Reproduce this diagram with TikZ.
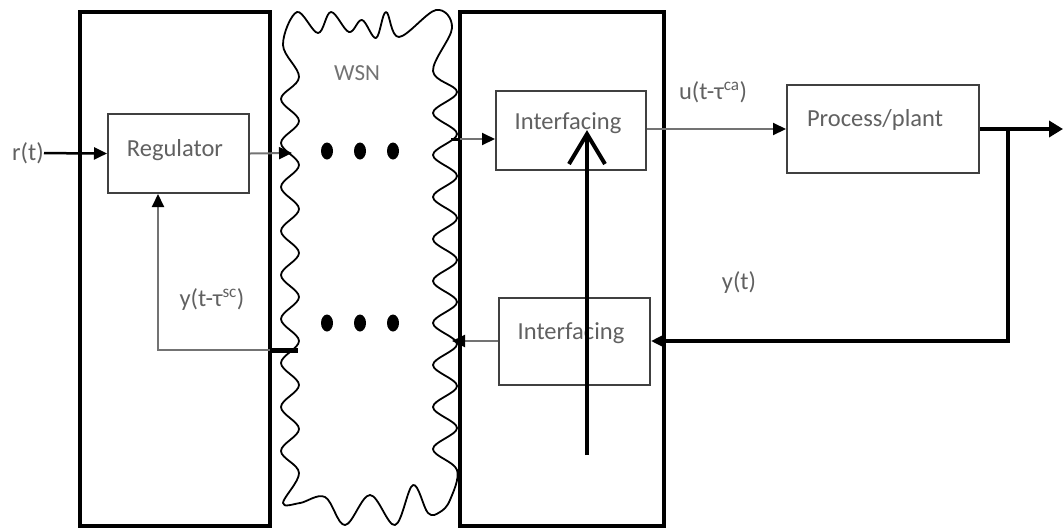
\documentclass[tikz,border=0pt]{standalone}
\usepackage{fontspec}
\setmainfont{Carlito}
\usetikzlibrary{arrows.meta,shapes.geometric}
\begin{document}
\begin{tikzpicture}[x=1pt,y=-1pt,
 bigbox/.style={draw=black,line width=4.5pt},
 blk/.style={draw=black!75,line width=2pt,fill=white,inner sep=0pt},
 lbl/.style={text=black!62,font=\fontsize{24.5}{28}\selectfont,inner sep=0pt},
 thinln/.style={draw=black!55,line width=2pt},
 thickln/.style={draw=black,line width=4pt},
 tip/.style={-{Triangle[length=13pt,width=12pt,color=black]}},
 dotn/.style={ellipse,fill=black,inner sep=0pt,minimum width=12pt,minimum height=17pt},
 cloudln/.style={draw=black,line width=1.8pt,fill=white,line join=round},
]
\useasboundingbox (0,0) rectangle (1064,531);
% big boxes
\draw[bigbox] (80,12) rectangle (270,526);
\draw[bigbox] (460,12) rectangle (664,526);
% WSN cloud
\draw[cloudln] plot[smooth cycle,tension=0.6] coordinates {
 (283,45) (297,12) (318,33) (331,12) (349,32) (362,20) (376,38) (386,12) (399,37) (436,10) (452,28)
 (433,71) (457,92) (433,113) (457,134) (433,155) (457,176) (433,197) (457,218) (433,239) (457,260)
 (433,281) (457,302) (433,323) (457,344) (433,365) (457,386) (433,407) (457,428) (433,449) (457,470)
 (450,500) (440,512) (428,513) (413,485) (395,525) (370,495) (345,525) (325,497) (300,503) (283,503)
 (299,473) (281,451) (299,429) (281,407) (299,385) (281,363) (299,341) (281,319) (299,297) (281,275)
 (299,253) (281,231) (299,209) (281,187) (299,165) (281,143) (299,121) (281,99) (299,77) };
\node[lbl,text=black!55,font=\fontsize{23}{26}\selectfont] (wsn) at (357,73) {WSN};
% dots
\node[dotn] (d1) at (327,151) {};
\node[dotn] (d2) at (360,151) {};
\node[dotn] (d3) at (393,151) {};
\node[dotn] (d4) at (327,323) {};
\node[dotn] (d5) at (360,323) {};
\node[dotn] (d6) at (393,323) {};
% blocks
\node[blk,minimum width=141pt,minimum height=79pt] (reg) at (178.5,153.5) {};
\node[lbl] (regt) at (175,150) {Regulator};
\node[blk,minimum width=150pt,minimum height=79pt] (if1) at (571,130.5) {};
\node[lbl] (if1t) at (568,123) {Interfacing};
\node[blk,minimum width=192pt,minimum height=88pt] (plant) at (883,129) {};
\node[lbl] (plantt) at (875,120) {Process/plant};
\node[blk,minimum width=151pt,minimum height=87pt] (if2) at (574.5,341) {};
\node[lbl] (if2t) at (571,333) {Interfacing};
% labels
\node[lbl,anchor=east] (r) at (44,153) {r(t)};
\node[lbl] (ysc) at (212,300) {y(t-τ\textsuperscript{sc})};
\node[lbl] (uca) at (713,92) {u(t-τ\textsuperscript{ca})};
\node[lbl] (yt) at (739,283) {y(t)};
% coordinates on the cloud
\coordinate (wl1) at (292,153);
\coordinate (wl2) at (298,350);
\coordinate (wr1) at (451,139);
\coordinate (wr2) at (452,341);
\coordinate (out) at (1063,129);
\coordinate (br) at (1008,129);
\coordinate (vb) at (587,455);
\coordinate (vt) at (587,134);
% connectors
\draw[draw=black,line width=2.5pt,tip] (r) -- (reg.west);
\draw[thinln,tip] (reg.east) -- (wl1);
\draw[thinln,tip] (wl2) -| ([xshift=-20.5pt]reg.south);
\draw[line width=5pt] (270,350) -- (wl2);
\draw[line width=3pt] (wr1) -- (460,139);
\draw[thinln,tip] (460,139) -- (if1.west |- wr1);
\draw[thinln,tip] (if1.east |- plant.west) -- (plant.west);
\draw[thickln,-{Triangle[length=14pt,width=16pt]}] (plant.east) -- (out);
\draw[thickln,tip] (br) |- (if2.east);
\draw[thinln,tip] (if2.west) -- (wr2);
% big vertical arrow
\draw[line width=4pt] (vb) -- (vt);
\draw[line width=4pt,line join=miter] ([shift={(-18,30)}]vt) -- (vt) -- ([shift={(18,30)}]vt);
\end{tikzpicture}
\end{document}
